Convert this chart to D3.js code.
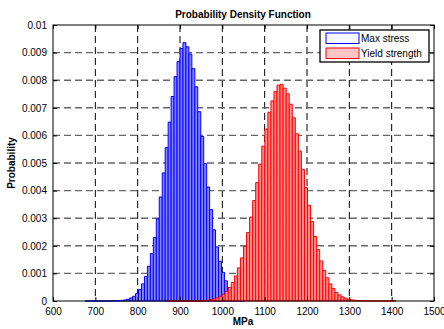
<!DOCTYPE html>
<html>
<head>
<meta charset="utf-8">
<script src="https://cdn.jsdelivr.net/npm/d3@7"></script>
<style>
  body { margin: 0; background: #fff; }
  svg { display: block; font-family: "Liberation Sans", Arial, sans-serif; }
</style>
</head>
<body>
<svg id="chart" width="444" height="329"></svg>
<script>
// histogram bins (MPa) and density values
var stressBinStart = 676, stressBinWidth = 7
var maxStressDensity = [0, 0, 0, 0, 0, 0.000001, 0.000001, 0.000002, 0.000002, 0.000004,
  0.000007, 0.000012, 0.000022, 0.000039, 0.000065, 0.00011, 0.00017, 0.00027, 0.00042, 0.00062,
  0.00089, 0.00126, 0.00172, 0.0023, 0.00298, 0.00377, 0.00464, 0.00556, 0.00648, 0.00741,
  0.00813, 0.00868, 0.00915, 0.00936, 0.00921, 0.00895, 0.00842, 0.00776, 0.00686, 0.00596,
  0.00498, 0.00413, 0.00331, 0.00258, 0.00196, 0.00144, 0.00104, 0.00073, 0.00049, 0.00033,
  0.00021, 0.00013, 0.00008, 0.00005]

var yieldBinStart = 870, yieldBinWidth = 7.2
var yieldDensity = [0, 0, 0, 0, 0, 0, 0, 0, 0, 0, 0,
  0.000011, 0.000019, 0.00003, 0.000048, 0.000074, 0.000112, 0.000166, 0.000243, 0.000347, 0.000488,
  0.000672, 0.000907, 0.0012, 0.00156, 0.00198, 0.00248, 0.00304, 0.00364, 0.00429, 0.00496,
  0.00561, 0.00623, 0.00684, 0.00725, 0.00759, 0.00782, 0.00785, 0.00771, 0.00751, 0.00713,
  0.00664, 0.00606, 0.00543, 0.00477, 0.00411, 0.00347, 0.00288, 0.00234, 0.00186, 0.00145,
  0.00111, 0.00084, 0.00062, 0.00045, 0.00031, 0.00022, 0.00015, 0.0001, 0.000065, 0.000042,
  0.000026, 0.000016, 0.00001, 0.000006, 0.000003, 0.000002, 0, 0, 0, 0, 0, 0, 0, 0]

var xTicks = [600, 700, 800, 900, 1000, 1100, 1200, 1300, 1400, 1500]
var yTicks = [0, 0.001, 0.002, 0.003, 0.004, 0.005, 0.006, 0.007, 0.008, 0.009, 0.01]
var seriesNames = ["Max stress", "Yield strength"]

var svg = d3.select("#chart")
var plotLeft = 53, plotRight = 434, plotTop = 25, plotBottom = 301

var x = d3.scaleLinear().domain([600, 1500]).range([plotLeft, plotRight])
var y = d3.scaleLinear().domain([0, 0.01]).range([plotBottom, plotTop])

// grid
svg.append("g").selectAll("line").data(xTicks.slice(1, -1)).enter().append("line")
  .attr("x1", function(d){ return x(d) }).attr("x2", function(d){ return x(d) })
  .attr("y1", plotTop).attr("y2", plotBottom)
  .style("stroke", "#000").style("stroke-dasharray", "7,4")

svg.append("g").selectAll("line").data(yTicks.slice(1, -1)).enter().append("line")
  .attr("x1", plotLeft).attr("x2", plotRight)
  .attr("y1", function(d){ return y(d) }).attr("y2", function(d){ return y(d) })
  .style("stroke", "#666").style("stroke-width", 1.4).style("stroke-dasharray", "7,4")

function drawBars(values, start, width, edge, face){
  svg.append("g").selectAll("path").data(values).enter().append("path")
    .attr("d", function(d, i){
      var x0 = x(start + i * width), x1 = x(start + (i + 1) * width)
      return "M" + x0 + "," + y(0) + "V" + y(d) + "H" + x1 + "V" + y(0) + "Z"
    })
    .style("fill", face).style("stroke", edge).style("stroke-width", 1)
}

drawBars(maxStressDensity, stressBinStart, stressBinWidth, "#0000ff", "#8585ff")
drawBars(yieldDensity, yieldBinStart, yieldBinWidth, "#ff0000", "#ff9090")

// axes (ticks inside, like matlab)
function fmtY(d){ return d === 0 ? "0" : String(+d.toFixed(3)) }

svg.append("g").attr("transform", "translate(0," + plotBottom + ")")
  .call(d3.axisBottom(x).tickValues(xTicks).tickFormat(d3.format("d")).tickSize(-4).tickPadding(7))
svg.append("g").attr("transform", "translate(" + plotLeft + ",0)")
  .call(d3.axisLeft(y).tickValues(yTicks).tickFormat(fmtY).tickSize(-4).tickPadding(6))
svg.append("g").attr("transform", "translate(0," + plotTop + ")")
  .call(d3.axisTop(x).tickValues(xTicks).tickSize(-4).tickFormat(""))
svg.append("g").attr("transform", "translate(" + plotRight + ",0)")
  .call(d3.axisRight(y).tickValues(yTicks).tickSize(-4).tickFormat(""))

svg.selectAll(".domain").remove()
svg.selectAll(".tick line").style("stroke", "#000")
svg.selectAll(".tick text").style("font-size", "10px").style("fill", "#000")
  .style("font-family", "'Liberation Sans', Arial, sans-serif")

svg.append("rect").attr("x", plotLeft).attr("y", plotTop)
  .attr("width", plotRight - plotLeft).attr("height", plotBottom - plotTop)
  .style("fill", "none").style("stroke", "#000").style("stroke-width", 1)

// labels
svg.append("text").attr("x", 243).attr("y", 17.5).attr("text-anchor", "middle")
  .style("font-size", "10px").style("font-weight", "bold").text("Probability Density Function")
svg.append("text").attr("x", 243).attr("y", 325).attr("text-anchor", "middle")
  .style("font-size", "10px").style("font-weight", "bold").text("MPa")
svg.append("text").attr("transform", "translate(15,163) rotate(-90)").attr("text-anchor", "middle")
  .style("font-size", "10px").style("font-weight", "bold").text("Probability")

// legend
var legend = svg.append("g")
legend.append("rect").attr("x", 320).attr("y", 30).attr("width", 109).attr("height", 32)
  .style("fill", "#fff").style("stroke", "#000").style("stroke-width", 1.3)
var swatch = [{edge: "#0000ff", face: "#f6f6ff"}, {edge: "#ff0000", face: "#ffc4c4"}]
legend.selectAll(".sw").data(seriesNames).enter().append("rect")
  .attr("x", 326).attr("y", function(d, i){ return 33 + i * 15 })
  .attr("width", 33).attr("height", 10.5)
  .style("fill", function(d, i){ return swatch[i].face })
  .style("stroke", function(d, i){ return swatch[i].edge })
legend.selectAll(".lb").data(seriesNames).enter().append("text")
  .attr("x", 361).attr("y", function(d, i){ return 42 + i * 15 })
  .style("font-size", "10px").text(function(d){ return d })
</script>
</body>
</html>
